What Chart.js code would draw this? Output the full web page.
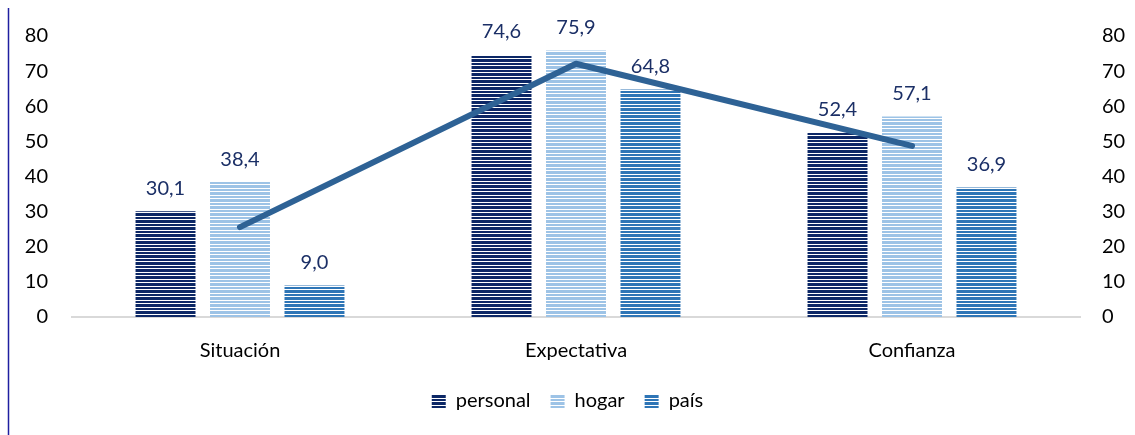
<!DOCTYPE html>
<html>
<head>
<meta charset="utf-8">
<script src="https://cdn.jsdelivr.net/npm/chart.js@4/dist/chart.umd.min.js"></script>
<style>
html,body{margin:0;padding:0;background:#fff;}
#wrap{position:relative;width:1135px;height:435px;}
</style>
</head>
<body>
<div id="wrap"><canvas id="c" width="1135" height="435"></canvas></div>
<script>
const categories = ['Situación', 'Expectativa', 'Confianza'];
const personal = [30.1, 74.6, 52.4];
const hogar = [38.4, 75.9, 57.1];
const pais = [9.0, 64.8, 36.9];
const indice = [25.6, 72.1, 48.7];
const seriesNames = ['personal', 'hogar', 'país'];

function stripes(color) {
  const c = document.createElement('canvas');
  c.width = 4; c.height = 7;
  const x = c.getContext('2d');
  x.fillStyle = '#ffffff';
  x.fillRect(0, 0, 4, 7);
  x.fillStyle = color;
  [0, 1, 3, 4, 5].forEach(r => x.fillRect(0, r, 4, 1));
  return x.createPattern(c, 'repeat');
}

const labelPlugin = {
  id: 'valLabels',
  afterDatasetsDraw(chart) {
    const ctx = chart.ctx;
    ctx.save();
    ctx.font = '20px Lato';
    ctx.fillStyle = '#1b2f66';
    ctx.textAlign = 'center';
    ctx.textBaseline = 'middle';
    chart.data.datasets.forEach((ds, i) => {
      if (ds.type === 'line') return;
      const meta = chart.getDatasetMeta(i);
      meta.data.forEach((el, j) => {
        ctx.fillText(ds.data[j].toFixed(1).replace('.', ','), el.x, el.y - 23);
      });
    });
    ctx.restore();
  },
  beforeDraw(chart) {
    const ctx = chart.ctx;
    ctx.save();
    ctx.strokeStyle = '#1f1fa0';
    ctx.lineWidth = 1.5;
    ctx.beginPath();
    ctx.moveTo(8.5, 8);
    ctx.lineTo(8.5, 435);
    ctx.stroke();
    ctx.restore();
  }
};

const tickFont = { family: 'Lato', size: 20 };

new Chart(document.getElementById('c'), {
  type: 'bar',
  data: {
    labels: categories,
    datasets: [
      { type: 'line', label: 'índice', data: indice, borderColor: '#2e6295', borderWidth: 6,
        pointRadius: 0, borderCapStyle: 'round', borderJoinStyle: 'round', order: 0, yAxisID: 'y' },
      { label: seriesNames[0], data: personal, backgroundColor: stripes('#0c2766'), order: 1, yAxisID: 'y' },
      { label: seriesNames[1], data: hogar, backgroundColor: stripes('#9dc3e6'), order: 1, yAxisID: 'y' },
      { label: seriesNames[2], data: pais, backgroundColor: stripes('#2e75b6'), order: 1, yAxisID: 'y' }
    ]
  },
  options: {
    responsive: false,
    animation: false,
    devicePixelRatio: 1,
    layout: { padding: { top: 35, bottom: 14, left: 0, right: 0 } },
    datasets: { bar: { categoryPercentage: 0.665, barPercentage: 0.805 } },
    plugins: {
      tooltip: { enabled: false },
      title: { display: false },
      legend: {
        position: 'bottom',
        labels: {
          filter: (item) => item.datasetIndex !== 0,
          boxWidth: 14, boxHeight: 14, padding: 20,
          color: '#000', font: { family: 'Lato', size: 20 }
        }
      }
    },
    scales: {
      x: {
        grid: { display: false, drawTicks: false },
        border: { display: true, color: '#d9d9d9', width: 2 },
        ticks: { color: '#000', font: { family: 'Lato', size: 20 }, padding: 22 },
        afterFit(s) { s.height = 54; }
      },
      y: {
        position: 'left', min: 0, max: 80,
        grid: { display: false, drawTicks: false },
        border: { display: false },
        ticks: { stepSize: 10, color: '#000', font: tickFont, padding: 24 },
        afterFit(s) { s.width = 72; }
      },
      y2: {
        position: 'right', min: 0, max: 80,
        grid: { display: false, drawTicks: false },
        border: { display: false },
        ticks: { stepSize: 10, color: '#000', font: tickFont, padding: 22 },
        afterFit(s) { s.width = 55; }
      }
    }
  },
  plugins: [labelPlugin]
});
</script>
</body>
</html>
